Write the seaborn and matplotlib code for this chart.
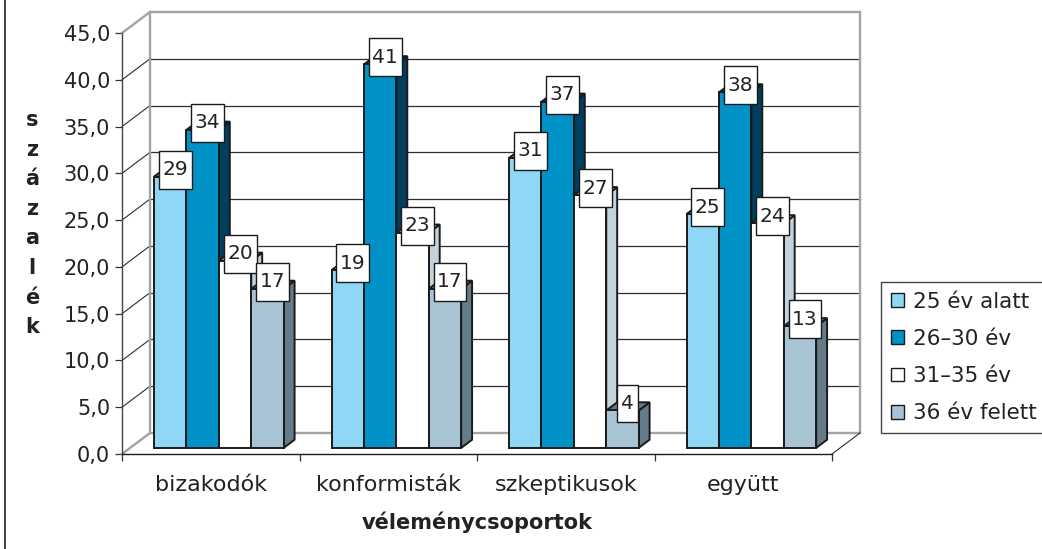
import numpy as np
import pandas as pd
import matplotlib
matplotlib.use("Agg")
import matplotlib.pyplot as plt
import matplotlib.transforms as mtransforms
from matplotlib.patches import Polygon, Patch
from matplotlib.lines import Line2D
from matplotlib.path import Path
import seaborn as sns

# ---- data -------------------------------------------------------------
CATEGORIES = ["bizakodók", "konformisták", "szkeptikusok", "együtt"]
SERIES = ["25 év alatt", "26–30 év", "31–35 év", "36 év felett"]
VALUES_25_ALATT = [29, 19, 31, 25]
VALUES_26_30 = [34, 41, 37, 38]
VALUES_31_35 = [20, 23, 27, 24]
VALUES_36_FELETT = [17, 17, 4, 13]
Y_TICKS = [0, 5, 10, 15, 20, 25, 30, 35, 40, 45]
Y_TICK_LABELS = [f"{t:.1f}".replace(".", ",") for t in Y_TICKS]
X_LABEL = "véleménycsoportok"
Y_LABEL = "százalék"

# ---- style ------------------------------------------------------------
FRONT_COLORS = ["#8ED8F6", "#0091C7", "#FFFFFF", "#A7C3D4"]
SIDE_COLORS = ["#5DB6DA", "#003F5F", "#C3D2DB", "#647B88"]
EDGE = "#1a1a1a"
WALL_GRAY = "#A3A3A3"
TEXT = "#222222"

DPI = 100
W_PX, H_PX = 1042, 549
DEPTH_X, DEPTH_Y = 28.0, 21.0     # pixel offset of the back wall
F_FRONT, F_BACK = 0.29, 0.68      # depth fractions of bar front / back faces

sns.set_style("white")
plt.rcParams["font.family"] = ["DejaVu Sans"]

fig = plt.figure(figsize=(W_PX / DPI, H_PX / DPI), dpi=DPI)
ax = fig.add_axes([122 / W_PX, 1 - 454 / H_PX, 710 / W_PX, 421 / H_PX])
ax.patch.set_visible(False)

df = pd.DataFrame({
    "csoport": CATEGORIES * len(SERIES),
    "korcsoport": np.repeat(SERIES, len(CATEGORIES)),
    "szazalek": VALUES_25_ALATT + VALUES_26_30 + VALUES_31_35 + VALUES_36_FELETT,
})

sns.barplot(data=df, x="csoport", y="szazalek", hue="korcsoport",
            order=CATEGORIES, hue_order=SERIES, palette=FRONT_COLORS,
            saturation=1, width=0.73, gap=0, dodge=True, errorbar=None,
            edgecolor=EDGE, linewidth=1.4, legend=False, ax=ax)

ax.set_xlim(-0.5, 3.5)
ax.set_ylim(0, 45)
ax.set_xlabel("")
ax.set_ylabel("")


def shifted(f):
    return ax.transData + mtransforms.ScaledTranslation(
        f * DEPTH_X / DPI, f * DEPTH_Y / DPI, fig.dpi_scale_trans)


def px(x, y, f):
    p = ax.transData.transform((x, y))
    return (p[0] + f * DEPTH_X, p[1] + f * DEPTH_Y)


def add_line(p0, p1, color, lw, z):
    ln = Line2D([p0[0], p1[0]], [p0[1], p1[1]], color=color, lw=lw,
                transform=mtransforms.IdentityTransform(), zorder=z,
                solid_capstyle="projecting")
    ax.add_line(ln)
    ln.set_clip_on(False)


# ---- back wall and side wall ------------------------------------------
x0, x1 = ax.get_xlim()
for t in Y_TICKS[1:-1]:
    add_line(px(x0, t, 1), px(x1, t, 1), "#2e2e2e", 0.9, 1)
    add_line(px(x0, t, 0), px(x0, t, 1), "#2e2e2e", 0.8, 1)
wall = Polygon([px(x0, 0, 1), px(x0, 45, 1), px(x1, 45, 1), px(x1, 0, 1)],
               closed=True, fill=False, edgecolor=WALL_GRAY, lw=1.7,
               transform=mtransforms.IdentityTransform(), zorder=1.5)
ax.add_patch(wall)
wall.set_clip_on(False)
add_line(px(x0, 45, 0), px(x0, 45, 1), WALL_GRAY, 1.7, 1.5)
add_line(px(x0, 0, 0), px(x0, 0, 1), WALL_GRAY, 1.7, 1.5)
add_line(px(x1, 0, 0), px(x1, 0, 1), "#2e2e2e", 0.8, 1.5)


# ---- bar labels box ---------------------------------------------------
def label_box(bx, by, bw, bh, mutation_size):
    padx = 0.18 * mutation_size
    pady = 0.47 * mutation_size
    xa, ya = bx - padx, by - pady
    xb, yb = bx + bw + padx, by + bh + pady
    return Path([(xa, ya), (xb, ya), (xb, yb), (xa, yb), (xa, ya)],
                closed=True)


# ---- 3D bars: side, top and front faces --------------------------------
for i, cont in enumerate(ax.containers):
    for rect in cont.patches:
        x, w, h = rect.get_x(), rect.get_width(), rect.get_height()
        zb = 3 + i * 0.1
        rect.set_transform(shifted(F_FRONT))
        rect.set_zorder(zb + 0.05)
        rect.set_clip_on(False)
        side = Polygon([px(x + w, 0, F_FRONT), px(x + w, h, F_FRONT),
                        px(x + w, h, F_BACK), px(x + w, 0, F_BACK)],
                       closed=True, facecolor=SIDE_COLORS[i], edgecolor=EDGE,
                       lw=1.4, joinstyle="miter",
                       transform=mtransforms.IdentityTransform(), zorder=zb)
        top = Polygon([px(x, h, F_FRONT), px(x + w, h, F_FRONT),
                       px(x + w, h, F_BACK), px(x, h, F_BACK)],
                      closed=True, facecolor=SIDE_COLORS[i], edgecolor=EDGE,
                      lw=1.4, joinstyle="miter",
                      transform=mtransforms.IdentityTransform(), zorder=zb)
        for poly in (side, top):
            ax.add_patch(poly)
            poly.set_clip_on(False)
        ax.annotate(f"{h:.0f}", xy=(x + w / 2, h), xycoords=shifted(F_FRONT),
                    xytext=(5, 7), textcoords="offset pixels",
                    ha="center", va="center", fontsize=14.5, color=TEXT,
                    bbox=dict(boxstyle=label_box, facecolor="white",
                              edgecolor=EDGE, linewidth=1.0),
                    zorder=10, annotation_clip=False)

# ---- axes, ticks -------------------------------------------------------
for s in ("top", "right"):
    ax.spines[s].set_visible(False)
ax.spines["left"].set_color("#444444")
ax.spines["left"].set_linewidth(1.0)
ax.spines["bottom"].set_color(EDGE)
ax.spines["bottom"].set_linewidth(1.0)

ax.set_yticks(Y_TICKS, Y_TICK_LABELS)
ax.tick_params(axis="y", left=True, direction="out", length=5, width=0.9,
               color="#333333", pad=3.5, labelsize=15, labelcolor=TEXT)
ax.set_xticks(range(len(CATEGORIES)), CATEGORIES)
ax.set_xticks(np.arange(-0.5, len(CATEGORIES), 1), minor=True)
ax.tick_params(axis="x", which="major", bottom=True, length=0, pad=15,
               labelsize=16, labelcolor=TEXT)
ax.tick_params(axis="x", which="minor", bottom=True, direction="out",
               length=5, width=0.9, color="#333333")

fig.text(477 / W_PX, 1 - 522 / H_PX, X_LABEL, ha="center", va="center",
         fontsize=15, fontweight="bold", color=TEXT)
fig.text(32 / W_PX, 1 - 110 / H_PX, "\n".join(Y_LABEL), ha="center",
         va="top", fontsize=15, fontweight="bold", color=TEXT,
         linespacing=1.6)

handles = [Patch(facecolor=c, edgecolor=EDGE, linewidth=1.0)
           for c in FRONT_COLORS]
leg = fig.legend(handles, SERIES, loc="upper left",
                 bbox_to_anchor=(881 / W_PX, 1 - 282 / H_PX),
                 frameon=True, fancybox=False, framealpha=1,
                 edgecolor="#444444", fontsize=15.5, handlelength=0.6,
                 handleheight=0.6, handletextpad=0.45, labelspacing=0.8,
                 borderpad=0.45, borderaxespad=0)
for t in leg.get_texts():
    t.set_color(TEXT)
leg.get_frame().set_linewidth(1.0)

fig.add_artist(Line2D([5 / W_PX, 5 / W_PX], [0, 1],
                      transform=fig.transFigure, color="#333333", lw=1.3))

fig.savefig("out.png", dpi=DPI, facecolor="white")
